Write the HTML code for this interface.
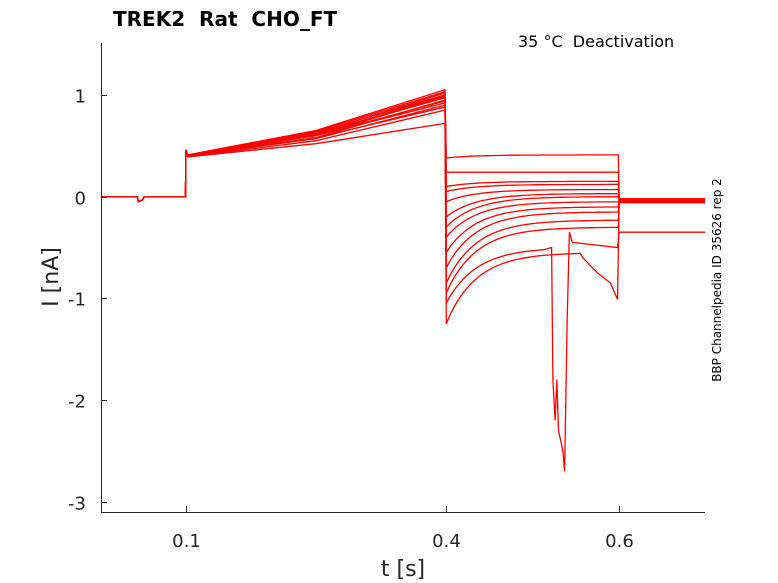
<!DOCTYPE html>
<html><head><meta charset="utf-8"><style>
body{margin:0;background:#fff;}
svg{display:block;font-family:"DejaVu Sans","Liberation Sans",sans-serif;}
</style></head><body>
<svg id="chart" width="778" height="583" viewBox="0 0 778 583">
<text x="113" y="26" font-size="20" font-weight="bold" style="white-space:pre" xml:space="preserve">TREK2  Rat  CHO_FT</text>
<text x="518" y="47" font-size="16" style="white-space:pre" xml:space="preserve">35 °C  Deactivation</text>
<text transform="translate(721,280) rotate(-90)" text-anchor="middle" font-size="12">BBP Channelpedia ID 35626 rep 2</text>
<text x="403" y="576" text-anchor="middle" font-size="22" fill="#262626">t [s]</text>
<text transform="translate(58,277) rotate(-90)" text-anchor="middle" font-size="22" fill="#262626">I [nA]</text>
<g id="traces"></g>
<g id="axes"></g>
</svg>
<script>
const xTicks=[0.1,0.4,0.6];
const xTickLabels=["0.1","0.4","0.6"];
const yTicks=[1,0,-1,-2,-3];
const yTickLabels=["1","0","-1","-2","-3"];
// per-sweep values (nA)
const actStart=[0.40,0.40,0.39,0.41,0.40,0.40,0.41,0.40,0.39,0.40,0.41,0.40,0.40,0.39];
const actMid=[0.62,0.60,0.58,0.65,0.63,0.60,0.62,0.57,0.55,0.64,0.60,0.58,0.61,0.52];
const actEnd=[1.02,0.98,0.95,1.05,1.00,0.92,0.97,0.90,0.85,1.03,0.94,0.88,0.99,0.72];
const deactStart=[0.38,0.24,0.10,0.05,-0.05,-0.20,-0.30,-0.40,-0.55,-0.70,-0.85,-0.95,-1.05,-1.25];
const deactEnd=[0.41,0.24,0.15,0.12,0.07,0.03,0.00,-0.05,-0.10,-0.15,-0.23,-0.30,-0.50,-0.55];
const tailLevel=[-0.03,-0.02,-0.04,-0.03,-0.02,-0.05,-0.03,-0.04,-0.02,-0.06,-0.03,-0.05,-0.35,-0.04];
const dipSweep=12;
const dipT=[0.522,0.5235,0.526,0.528,0.530,0.535,0.537,0.540,0.5425,0.546];
const dipV=[-0.50,-1.80,-2.20,-1.80,-2.30,-2.50,-2.70,-1.20,-0.35,-0.45];
const lateDropT=[0.558,0.575,0.590,0.598];
const lateDropV=[-0.60,-0.75,-0.85,-1.01];

const X0=0.002,X1=0.699,Y0=-3.1,Y1=1.51;
const L=101,R=705,T=43,B=512;
const sx=t=>L+(t-X0)/(X1-X0)*(R-L);
const sy=v=>B-(v-Y0)/(Y1-Y0)*(B-T);
const NS="http://www.w3.org/2000/svg";
const tr=document.getElementById('traces');
const ax=document.getElementById('axes');

for(let i=0;i<actEnd.length;i++){
  const pts=[[X0,0],[0.044,0],[0.045,-0.05],[0.05,-0.03],[0.052,0],[0.0995,0],[0.1,actStart[i]+0.05],[0.102,actStart[i]],
    [0.25,actMid[i]],[0.399,actEnd[i]],[0.4005,deactStart[i]]];
  const lv=deactEnd[i],st=deactStart[i];
  for(let t=0.405;t<0.599;t+=0.006){
    let v=lv+(st-lv)*Math.exp(-(t-0.4)/0.035);
    if(i===dipSweep && t>dipT[0]-0.006) break;
    if(i===deactEnd.length-1 && t>lateDropT[0]) break;
    pts.push([t,v]);
  }
  if(i===dipSweep){ for(let k=0;k<dipT.length;k++) pts.push([dipT[k],dipV[k]]); pts.push([0.598,lv]); }
  else if(i===deactEnd.length-1){ for(let k=0;k<lateDropT.length;k++) pts.push([lateDropT[k],lateDropV[k]]); }
  else pts.push([0.599,lv]);
  pts.push([0.6,tailLevel[i]],[X1,tailLevel[i]]);
  const p=document.createElementNS(NS,'polyline');
  p.setAttribute('points',pts.map(q=>sx(q[0]).toFixed(1)+','+sy(q[1]).toFixed(1)).join(' '));
  p.setAttribute('fill','none');p.setAttribute('stroke','#ff0000');p.setAttribute('stroke-width','1.3');
  
  
  tr.appendChild(p);
}
function line(x1,y1,x2,y2,name){
  const l=document.createElementNS(NS,'line');
  l.setAttribute('x1',x1);l.setAttribute('y1',y1);l.setAttribute('x2',x2);l.setAttribute('y2',y2);
  l.setAttribute('stroke','#262626');l.setAttribute('stroke-width','1');
  
  
  ax.appendChild(l);
}
function text(x,y,s,anchor,name){
  const t=document.createElementNS(NS,'text');
  t.setAttribute('x',x);t.setAttribute('y',y);t.setAttribute('text-anchor',anchor);
  t.setAttribute('font-size','18');t.setAttribute('fill','#262626');t.textContent=s;
  
  
  ax.appendChild(t);
}
line(L+0.5,T,L+0.5,B,'y-axis-line');
line(L,B+0.5,R,B+0.5,'x-axis-line');
xTicks.forEach((v,k)=>{const x=Math.round(sx(v))+0.5;line(x,B,x,B-6,'x-tick');text(x,547,xTickLabels[k],'middle','x-tick-label');});
yTicks.forEach((v,k)=>{const y=Math.round(sy(v))+0.5;line(L,y,L+6,y,'y-tick');text(86,y+7,yTickLabels[k],'end','y-tick-label');});
</script>
</body></html>
